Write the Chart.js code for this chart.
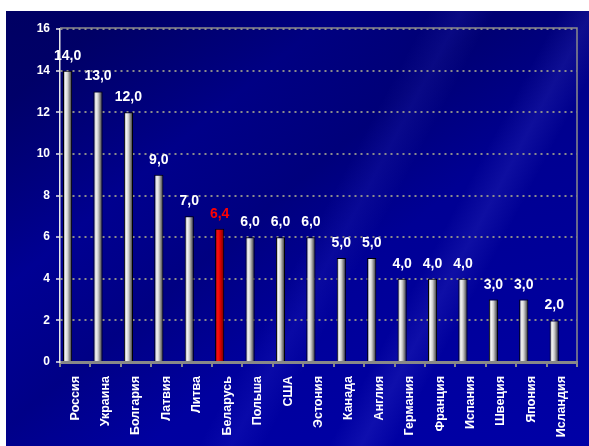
<!DOCTYPE html>
<html>
<head>
<meta charset="utf-8">
<script src="https://cdn.jsdelivr.net/npm/chart.js@4"></script>
<style>
  body { margin: 0; background: #fff; }
  #wrap {
    position: absolute; left: 6px; top: 11px; width: 583px; height: 435px;
    background:
      linear-gradient(118deg, transparent 52%, rgba(90,90,255,0.10) 56%, transparent 60%),
      linear-gradient(118deg, transparent 68%, rgba(120,120,255,0.12) 72%, transparent 76%),
      linear-gradient(140deg, rgba(0,0,50,0.30) 10%, transparent 30%, rgba(0,0,50,0.2) 45%, transparent 60%),
      linear-gradient(170deg, #000078 0%, #000092 45%, #0000a6 100%);
  }
</style>
</head>
<body>
<div id="wrap"><canvas id="myBarChart"></canvas></div>
<script>
"use strict";

// countries and values
const countries = ['Россия', 'Украина', 'Болгария', 'Латвия', 'Литва', 'Беларусь', 'Польша', 'США',
  'Эстония', 'Канада', 'Англия', 'Германия', 'Франция', 'Испания', 'Швеция', 'Япония', 'Исландия'];
const values = [14, 13, 12, 9, 7, 6.4, 6, 6, 6, 5, 5, 4, 4, 4, 3, 3, 2];
const highlight = 'Беларусь';
const yTicks = [0, 2, 4, 6, 8, 10, 12, 14, 16];

Chart.defaults.font.family = "'Liberation Sans', Arial, sans-serif";
Chart.defaults.font.weight = 'bold';
Chart.defaults.color = '#fff';

// cylinder-like shading for each bar
function barFill(ctx) {
  const chart = ctx.chart;
  const xs = chart.scales.x;
  const red = countries[ctx.dataIndex] === highlight;
  if (!xs || !chart.chartArea) return red ? '#cc0000' : '#bbbbbb';
  const catW = (xs.right - xs.left) / countries.length;
  const cx = xs.getPixelForValue(ctx.dataIndex) - catW / 4;
  const half = catW * 0.15;
  const g = chart.ctx.createLinearGradient(cx - half, 0, cx + half, 0);
  if (red) {
    g.addColorStop(0, '#a00000');
    g.addColorStop(0.3, '#ff1010');
    g.addColorStop(0.6, '#d00000');
    g.addColorStop(1, '#700000');
  } else {
    g.addColorStop(0, '#8a8a8a');
    g.addColorStop(0.28, '#f4f4f4');
    g.addColorStop(0.5, '#d0d0d0');
    g.addColorStop(0.8, '#6a6a6a');
    g.addColorStop(1, '#303030');
  }
  return g;
}

// value labels on top of bars
const valueLabels = {
  id: 'valueLabels',
  afterDatasetsDraw(chart) {
    const ctx = chart.ctx;
    const meta = chart.getDatasetMeta(0);
    ctx.save();
    ctx.font = "bold 14px 'Liberation Sans', Arial, sans-serif";
    ctx.textAlign = 'center';
    ctx.textBaseline = 'alphabetic';
    meta.data.forEach(function(bar, i) {
      ctx.fillStyle = countries[i] === highlight ? '#ff0000' : '#ffffff';
      ctx.fillText(values[i].toFixed(1).replace('.', ','), bar.x, bar.y - 11);
    });
    ctx.restore();
  }
};

// top and right edge of the plot area
const plotFrame = {
  id: 'plotFrame',
  beforeDatasetsDraw(chart) {
    const a = chart.chartArea;
    const ctx = chart.ctx;
    ctx.save();
    ctx.strokeStyle = '#8c8c8c';
    ctx.lineWidth = 1.5;
    ctx.beginPath();
    ctx.moveTo(a.left, a.top - 1);
    ctx.lineTo(a.right, a.top - 1);
    ctx.lineTo(a.right, a.bottom);
    ctx.stroke();
    ctx.restore();
  }
};

const barCtx = document.getElementById('myBarChart').getContext('2d');
let myBarChart = new Chart(barCtx, {
  type: 'bar',
  data: {
    labels: countries,
    datasets: [{
      data: values,
      backgroundColor: barFill,
      borderColor: '#000',
      borderWidth: 1,
      borderSkipped: 'bottom',
      categoryPercentage: 1,
      barPercentage: 0.6
    }, {
      data: countries.map(() => null),   // empty slot, pushes bars left like the original
      categoryPercentage: 1,
      barPercentage: 0.6
    }]
  },
  options: {
    responsive: true,
    maintainAspectRatio: false,
    animation: false,
    layout: { padding: { top: 18, right: 12, left: 0, bottom: 0 } },
    plugins: { legend: { display: false }, tooltip: { enabled: false } },
    scales: {
      x: {
        afterFit(scale) { scale.height = 84; },
        grid: { drawOnChartArea: false, color: '#888', lineWidth: 2, tickLength: 5 },
        border: { color: '#888', width: 3 },
        ticks: {
          autoSkip: false, minRotation: 90, maxRotation: 90, padding: 9,
          color: '#fff', font: { size: 12.5, weight: 'bold' }
        }
      },
      y: {
        min: 0,
        max: 16,
        afterFit(scale) { scale.width = 54; },
        afterBuildTicks(scale) { scale.ticks = yTicks.map(v => ({ value: v })); },
        grid: { color: '#8c8c8c', lineWidth: 2, tickColor: '#e8e8e8', tickWidth: 1.5, tickLength: 4 },
        border: { color: '#e8e8e8', width: 1.5, dash: [2, 4] },
        ticks: { padding: 6, color: '#fff', font: { size: 12, weight: 'bold' } }
      }
    }
  },
  plugins: [valueLabels, plotFrame]
});
</script>
</body>
</html>
